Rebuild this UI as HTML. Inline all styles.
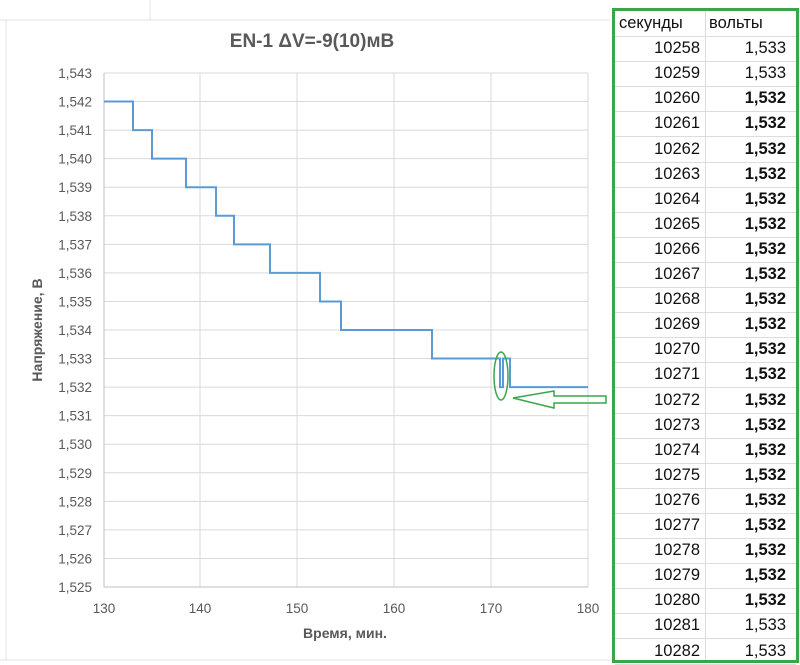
<!DOCTYPE html>
<html><head><meta charset="utf-8"><style>
body{margin:0;width:800px;height:664px;background:#fff;overflow:hidden;font-family:"Liberation Sans",sans-serif;position:relative}
.tb{position:absolute;left:612px;top:8px;width:181px;height:649px;border:3px solid #3aa64c;box-sizing:content-box}
.r{position:absolute;left:0;width:181px;height:25px;border-bottom:1px solid #dcdcdc;font-size:16.5px;color:#111}
.r span{position:absolute;top:3px}
.a{right:96px}.b{right:10px}
.vd{position:absolute;left:90px;top:0;bottom:0;border-left:1px solid #dcdcdc}
</style></head><body>
<svg width="800" height="664" style="position:absolute;left:0;top:0">
<g stroke="#e3e3e3"><line x1="0" y1="20" x2="610" y2="20"/><line x1="150" y1="0" x2="150" y2="20"/><line x1="0" y1="660" x2="610" y2="660"/><line x1="6" y1="20" x2="6" y2="660"/></g>
<text x="312" y="47" text-anchor="middle" font-size="19" font-weight="bold" fill="#595959" font-family="Liberation Sans">EN-1 ΔV=-9(10)мВ</text>
<g stroke="#d9d9d9" stroke-width="1">
<line x1="200" y1="73" x2="200" y2="587"/><line x1="297" y1="73" x2="297" y2="587"/><line x1="394" y1="73" x2="394" y2="587"/><line x1="491" y1="73" x2="491" y2="587"/><line x1="588" y1="73" x2="588" y2="587"/>
</g>
<g id="g" stroke="#d9d9d9"></g>
<line x1="104" y1="73" x2="104" y2="587" stroke="#bfbfbf"/>
<line x1="104" y1="587" x2="588" y2="587" stroke="#bfbfbf"/>
<g id="yl" font-size="13.5" fill="#595959" text-anchor="end" font-family="Liberation Sans"></g>
<g font-size="13.5" fill="#595959" text-anchor="middle" font-family="Liberation Sans">
<text x="104" y="613">130</text><text x="200" y="613">140</text><text x="297" y="613">150</text><text x="394" y="613">160</text><text x="491" y="613">170</text><text x="588" y="613">180</text></g>
<text x="345" y="638" text-anchor="middle" font-size="14" font-weight="bold" fill="#595959" font-family="Liberation Sans">Время, мин.</text>
<text transform="translate(42,330) rotate(-90)" text-anchor="middle" font-size="14" font-weight="bold" fill="#595959" font-family="Liberation Sans">Напряжение, В</text>
<polyline id="p" fill="none" stroke="#5b9bd5" stroke-width="2"/>
<ellipse cx="501" cy="376" rx="7" ry="24" fill="none" stroke="#3aa64c" stroke-width="1.5"/>
<polygon points="513,398 554,391 554,396 606,396 606,403 554,403 554,408" fill="none" stroke="#3aa64c" stroke-width="1.5"/>
</svg>
<div class="tb" id="tb"><div class="vd"></div></div>
<script>
var Y=function(v){return 73+(1.543-v)*1000*28.556};
var g=document.getElementById('g'),yl=document.getElementById('yl'),s='',t='';
for(var i=0;i<=18;i++){var v=1.543-i/1000,y=Y(v);if(i<18)s+='<line x1="104" y1="'+y+'" x2="588" y2="'+y+'"/>';t+='<text x="92" y="'+(y+5)+'">'+v.toFixed(3).replace('.',',')+'</text>';}
g.innerHTML=s;yl.innerHTML=t;
var st=[[133,1.542],[152,1.541],[186,1.540],[216,1.539],[234,1.538],[270,1.537],[320,1.536],[341,1.535],[432,1.534],[500,1.533],[503,1.532],[510,1.533],[588,1.532]];
var x0=104,pts=[],v=1.542;
pts.push(x0+','+Y(v));
for(var k=0;k<st.length;k++){pts.push(st[k][0]+','+Y(st[k][1]));if(k+1<st.length)pts.push(st[k][0]+','+Y(st[k+1][1]));}
document.getElementById('p').setAttribute('points',pts.join(' '));
var tb=document.getElementById('tb'),h='<div class="r" style="top:0"><span style="left:4px">секунды</span><span style="left:94px">вольты</span></div>';
for(var j=0;j<25;j++){var n=10258+j,b=(n>=10260&&n<=10280);h+='<div class="r" style="top:'+(25.1*(j+1))+'px"><span class="a">'+n+'</span><span class="b" style="'+(b?'font-weight:bold':'')+'">'+(b?'1,532':'1,533')+'</span></div>';}
tb.innerHTML+=h;
</script>
</body></html>
